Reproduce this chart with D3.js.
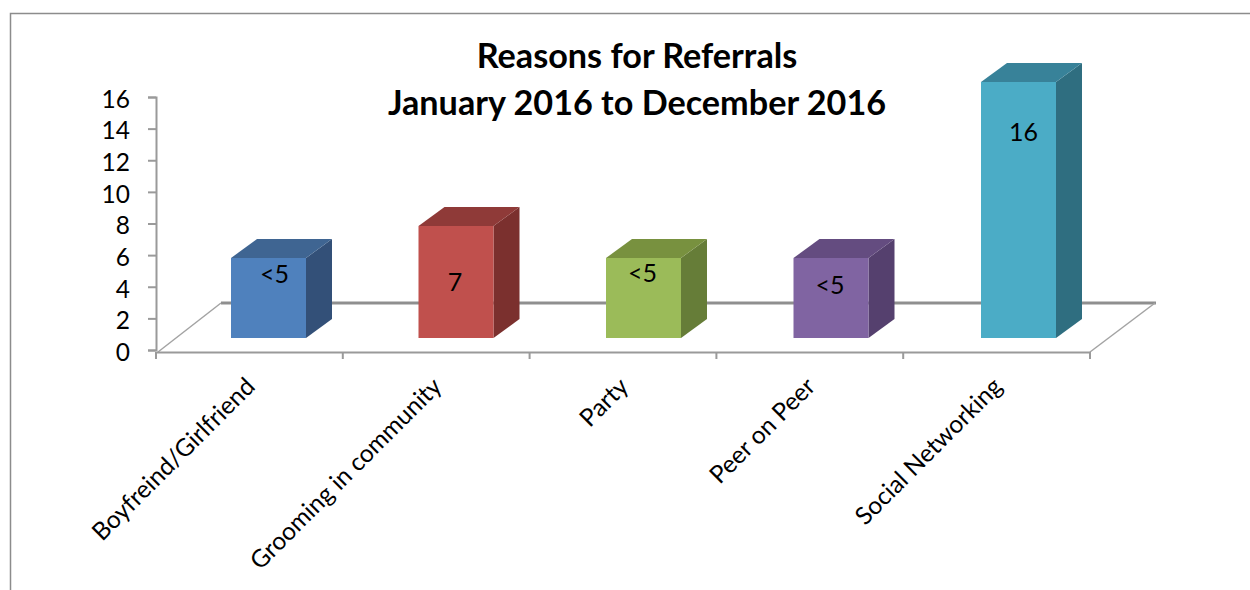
<!DOCTYPE html>
<html lang="en">
<head>
<meta charset="utf-8">
<title>Reasons for Referrals</title>
<script src="https://d3js.org/d3.v7.min.js"></script>
<style>
    html, body { margin: 0; padding: 0; background: #fff; }
    svg { display: block; font-family: "Lato", "Open Sans", sans-serif; }
    .axis path, .axis line { stroke: #9a9a9a; stroke-width: 2; }
    .axis text { fill: #000; font-size: 24.5px; font-family: "Lato", sans-serif; }
    .title { font-size: 34.2px; font-weight: bold; text-anchor: middle; }
    .val { font-size: 25px; text-anchor: middle; }
</style>
</head>
<body>
<script>
    // values, the "<5" bars are drawn at 5
    var categories = ["Boyfreind/Girlfriend", "Grooming in community", "Party", "Peer on Peer", "Social Networking"];
    var values = [5, 7, 5, 5, 16];
    var valueLabels = ["<5", "7", "<5", "<5", "16"];
    var yTicks = [0, 2, 4, 6, 8, 10, 12, 14, 16];
    var frontColors = ["#4f81bd", "#c0504d", "#9bbb59", "#8064a2", "#4bacc6"];
    var topColors = ["#3f6592", "#8f3a38", "#78913f", "#644c80", "#388299"];
    var sideColors = ["#335078", "#7b302e", "#667d38", "#55406e", "#2f6e80"];

    var width = 1250, height = 590;
    var x0 = 156, x1 = 1090, yBottom = 350, yTop = 97;
    var depthX = 65, depthY = -49;   // floor depth
    var barDx = 26, barDy = -19;     // bar depth
    var barW = 75, barBase = 338;
    // the labels were dragged by hand in the original: [dx from bar centre, dy from bar top]
    var labelNudge = [[6, 25], [-1, 65], [-1, 24], [-1, 36], [5, 59]];

    var svg = d3.select("body").append("svg")
        .attr("width", width).attr("height", height);

    // outer frame, cut off by the right and bottom of the picture
    svg.append("path")
        .attr("d", "M10.5,590V13.5H1250")
        .attr("fill", "none").attr("stroke", "#8c8c8c").attr("stroke-width", 1.5);

    var x = d3.scaleBand().domain(categories).range([x0, x1]);
    var y = d3.scaleLinear().domain([0, 16]).range([yBottom, yTop]);
    // bars sit inside the 3d floor so they run on their own slightly larger scales
    var barX = d3.scalePoint().domain(categories).range([268.5, 1018.5]);
    var barH = d3.scaleLinear().domain([0, 16]).range([0, 256]);

    // floor
    var floor = svg.append("g").attr("fill", "none").attr("stroke", "#a3a3a3");
    floor.append("line").attr("x1", x0 + depthX).attr("x2", x1 + depthX + 1)
        .attr("y1", yBottom + 2 + depthY).attr("y2", yBottom + 2 + depthY)
        .attr("stroke", "#8f8f8f").attr("stroke-width", 3);
    floor.append("line").attr("x1", x0 + 2).attr("x2", x0 + depthX)
        .attr("y1", yBottom + 2).attr("y2", yBottom + 2 + depthY).attr("stroke-width", 1.5);
    floor.append("line").attr("x1", x1).attr("x2", x1 + depthX)
        .attr("y1", yBottom + 2).attr("y2", yBottom + 2 + depthY).attr("stroke-width", 1.5);

    // axes
    var yAxis = d3.axisLeft(y).tickValues(yTicks).tickSize(8).tickPadding(18);
    var yAxisG = svg.append("g").attr("class", "axis").attr("transform", "translate(" + x0 + ",0)").call(yAxis);
    yAxisG.selectAll(".tick text").attr("dy", "0.42em");

    var xAxisG = svg.append("g").attr("class", "axis").attr("transform", "translate(0," + (yBottom + 2) + ")");
    xAxisG.call(d3.axisBottom(x).tickSize(0).tickSizeOuter(0).tickPadding(0));
    xAxisG.selectAll(".tick text")
        .attr("text-anchor", "end")
        .attr("dy", 0).attr("y", 0)
        .attr("transform", "translate(7,36) rotate(-45)");

    // ticks between the categories
    var edges = categories.map(function(c) { return x(c); }).concat([x1]);
    xAxisG.selectAll(".edge").data(edges).enter().append("line")
        .attr("class", "edge")
        .attr("x1", function(d) { return d; }).attr("x2", function(d) { return d; })
        .attr("y1", 0).attr("y2", 7);

    // bars
    var bars = svg.selectAll(".bar").data(values).enter().append("g").attr("class", "bar");

    function barLeft(i) { return barX(categories[i]) - barW / 2; }
    function barTop(d) { return barBase - barH(d); }

    bars.append("path")
        .attr("fill", function(d, i) { return sideColors[i]; })
        .attr("d", function(d, i) {
            var r = barLeft(i) + barW, t = barTop(d);
            return "M" + r + "," + t + "l" + barDx + "," + barDy + "V" + (barBase + barDy) + "l" + (-barDx) + "," + (-barDy) + "Z";
        });
    bars.append("path")
        .attr("fill", function(d, i) { return topColors[i]; })
        .attr("d", function(d, i) {
            var l = barLeft(i), t = barTop(d);
            return "M" + l + "," + t + "l" + barDx + "," + barDy + "h" + barW + "l" + (-barDx) + "," + (-barDy) + "Z";
        });
    bars.append("rect")
        .attr("x", function(d, i) { return barLeft(i); })
        .attr("y", barTop)
        .attr("width", barW)
        .attr("height", function(d) { return barBase - barTop(d); })
        .attr("fill", function(d, i) { return frontColors[i]; });

    bars.append("text")
        .attr("class", "val")
        .attr("x", function(d, i) { return barLeft(i) + barW / 2 + labelNudge[i][0]; })
        .attr("y", function(d, i) { return barTop(d) + labelNudge[i][1]; })
        .text(function(d, i) { return valueLabels[i]; });

    // title goes on top of everything
    svg.append("text").attr("class", "title").attr("x", 637).attr("y", 68).text("Reasons for Referrals");
    svg.append("text").attr("class", "title").attr("x", 637).attr("y", 115).text("January 2016 to December 2016");
</script>
</body>
</html>
